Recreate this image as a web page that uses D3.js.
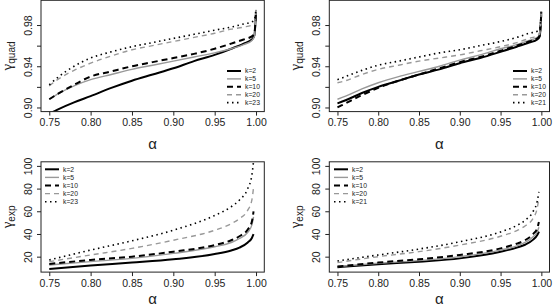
<!DOCTYPE html>
<html>
<head>
<meta charset="utf-8">
<script src="https://cdn.jsdelivr.net/npm/d3@7"></script>
<style>
  body { margin: 0; background: #fff; }
  text { font-family: "Liberation Sans", Arial, sans-serif; fill: #222; }
</style>
</head>
<body>
<script>
// ---- data ----
var kLabelsLeft = ["k=2", "k=5", "k=10", "k=20", "k=23"];
var kLabelsRight = ["k=2", "k=5", "k=10", "k=20", "k=21"];

var quadAlpha = [0.75, 0.76, 0.78, 0.80, 0.825, 0.85, 0.875, 0.90, 0.925, 0.95, 0.97, 0.985, 0.995, 0.998, 1.0];
var quadL_k2  = [0.894, 0.898, 0.905, 0.911, 0.919, 0.926, 0.932, 0.938, 0.945, 0.951, 0.957, 0.962, 0.966, 0.970, 0.993];
var quadL_k5  = [0.908, 0.913, 0.921, 0.927, 0.932, 0.937, 0.941, 0.945, 0.949, 0.953, 0.957, 0.961, 0.965, 0.969, 0.993];
var quadL_k10 = [0.908, 0.913, 0.922, 0.930, 0.935, 0.940, 0.944, 0.948, 0.952, 0.957, 0.962, 0.966, 0.969, 0.972, 0.994];
var quadL_k20 = [0.921, 0.927, 0.936, 0.943, 0.950, 0.956, 0.960, 0.964, 0.968, 0.972, 0.976, 0.978, 0.980, 0.982, 0.995];
var quadL_k23 = [0.922, 0.929, 0.940, 0.948, 0.954, 0.959, 0.963, 0.967, 0.971, 0.975, 0.978, 0.981, 0.983, 0.985, 0.996];

var quadR_k2  = [0.904, 0.907, 0.914, 0.920, 0.926, 0.932, 0.937, 0.943, 0.948, 0.954, 0.959, 0.963, 0.966, 0.969, 0.993];
var quadR_k5  = [0.908, 0.911, 0.918, 0.924, 0.930, 0.935, 0.940, 0.946, 0.951, 0.957, 0.961, 0.965, 0.968, 0.971, 0.993];
var quadR_k10 = [0.900, 0.904, 0.912, 0.919, 0.926, 0.932, 0.938, 0.944, 0.949, 0.955, 0.960, 0.964, 0.967, 0.970, 0.993];
var quadR_k20 = [0.924, 0.926, 0.932, 0.937, 0.941, 0.945, 0.948, 0.951, 0.955, 0.959, 0.963, 0.967, 0.970, 0.973, 0.994];
var quadR_k21 = [0.927, 0.930, 0.936, 0.941, 0.945, 0.949, 0.953, 0.956, 0.960, 0.964, 0.968, 0.972, 0.974, 0.976, 0.995];

var expAlpha = [0.75, 0.80, 0.85, 0.90, 0.95, 0.97, 0.98, 0.99, 0.995, 0.997];
var expL_k2  = [9.2, 12.2, 14.8, 17.7, 22.3, 25.5, 28.0, 32.5, 36.5, 39.8];
var expL_k5  = [12.7, 15.6, 18.5, 22.9, 28.7, 32.5, 36.0, 41.5, 48.0, 55.0];
var expL_k10 = [13.6, 17.1, 20.0, 24.4, 30.2, 34.5, 38.0, 44.0, 51.0, 60.0];
var expL_k20 = [15.6, 21.5, 27.3, 34.5, 43.3, 49.0, 53.5, 61.0, 70.0, 81.0];
var expL_k23 = [17.1, 25.8, 34.0, 43.3, 56.3, 64.0, 70.0, 80.0, 92.0, 104.0];

var expR_k2  = [10.7, 13.3, 15.6, 18.5, 24.4, 28.0, 30.5, 35.0, 39.0, 42.0];
var expR_k5  = [11.3, 14.2, 16.5, 20.0, 25.8, 29.5, 32.5, 37.5, 42.0, 46.0];
var expR_k10 = [11.3, 14.8, 17.7, 21.5, 27.3, 31.5, 34.5, 40.0, 45.0, 50.5];
var expR_k20 = [14.8, 20.0, 24.4, 30.2, 38.0, 43.0, 47.0, 54.0, 63.0, 72.0];
var expR_k21 = [16.2, 21.5, 26.7, 33.1, 41.8, 47.5, 52.0, 60.0, 69.0, 77.0];

var xTicks = [0.75, 0.80, 0.85, 0.90, 0.95, 1.00];
var quadTicks = [0.90, 0.92, 0.94, 0.96, 0.98];
var quadTickLabels = [0.90, 0.94, 0.98];
var expTicks = [20, 40, 60, 80, 100];

// ---- styling ----
var styles = [
    { color: "#000", w: 2.0, dash: null },
    { color: "#999", w: 1.4, dash: null },
    { color: "#000", w: 2.0, dash: "6,4" },
    { color: "#999", w: 1.4, dash: "5,4" },
    { color: "#000", w: 1.6, dash: "1.5,3.5" }
];

const w = 553,
    h = 307;
const svg = d3.select("body")
    .append("svg")
    .attr("width", w)
    .attr("height", h);

var panelId = 0;

var drawPanel = function (p) {
    panelId++;
    var xScale = d3.scaleLinear().domain([0.74, 1.01]).range([p.left, p.right]);
    var yScale = d3.scaleLinear().domain(p.yDomain).range([p.bottom, p.top]);

    var clipId = "clip" + panelId;
    svg.append("clipPath").attr("id", clipId)
        .append("rect")
        .attr("x", p.left).attr("y", p.top)
        .attr("width", p.right - p.left).attr("height", p.bottom - p.top);

    // curves
    var line = d3.line()
        .x((d) => xScale(d[0]))
        .y((d) => yScale(d[1]))
        .curve(d3.curveMonotoneX);
    var g = svg.append("g").attr("clip-path", "url(#" + clipId + ")");
    p.series.forEach(function (vals, i) {
        var pts = p.alpha.map((a, j) => [a, vals[j]]);
        g.append("path")
            .attr("d", line(pts))
            .attr("fill", "none")
            .attr("stroke", styles[i].color)
            .attr("stroke-width", styles[i].w)
            .attr("stroke-dasharray", styles[i].dash);
    });

    // box
    svg.append("rect")
        .attr("x", p.left).attr("y", p.top)
        .attr("width", p.right - p.left).attr("height", p.bottom - p.top)
        .attr("fill", "none").attr("stroke", "#222").attr("stroke-width", 1);

    // x axis
    var xAxis = d3.axisBottom(xScale)
        .tickValues(xTicks)
        .tickFormat(d3.format(".2f"))
        .tickSize(4)
        .tickPadding(3);
    var gx = svg.append("g")
        .attr("transform", "translate(0," + p.bottom + ")")
        .call(xAxis);
    gx.select(".domain").remove();
    gx.selectAll("line").attr("stroke", "#222");
    gx.selectAll("text").attr("font-size", 10.5).attr("fill", "#222")
        .attr("font-family", "'Liberation Sans', Arial, sans-serif");

    // y axis
    var yAxis = d3.axisLeft(yScale)
        .tickValues(p.yTicks)
        .tickFormat((d) => p.yLabels.some((v) => Math.abs(v - d) < 1e-9) ? p.yFormat(d) : "")
        .tickSize(4);
    var gy = svg.append("g")
        .attr("transform", "translate(" + p.left + ",0)")
        .call(yAxis);
    gy.select(".domain").remove();
    gy.selectAll("line").attr("stroke", "#222");
    gy.selectAll("text")
        .attr("font-size", 10.5).attr("fill", "#222")
        .attr("font-family", "'Liberation Sans', Arial, sans-serif")
        .attr("x", 0).attr("dy", "0.36em")
        .attr("text-anchor", "middle")
        .attr("transform", "translate(-12.7,0) rotate(-90)");

    // axis titles
    svg.append("text")
        .attr("x", (p.left + p.right) / 2)
        .attr("y", p.alphaY)
        .attr("text-anchor", "middle")
        .attr("font-family", "'Liberation Serif', serif")
        .attr("font-size", 15)
        .text("\u03b1");

    var yl = svg.append("text")
        .attr("transform", "translate(" + (p.left - 29) + "," + ((p.top + p.bottom) / 2) + ") rotate(-90)")
        .attr("text-anchor", "middle");
    yl.append("tspan")
        .attr("font-family", "'Liberation Serif', serif")
        .attr("font-size", 15)
        .text("\u03b3");
    yl.append("tspan")
        .attr("font-size", 10)
        .attr("dy", 3)
        .text(p.sub);

    // legend
    p.labels.forEach(function (lab, i) {
        var yy = p.legY + i * p.legStep;
        svg.append("line")
            .attr("x1", p.legX).attr("x2", p.legX + 14)
            .attr("y1", yy).attr("y2", yy)
            .attr("stroke", styles[i].color)
            .attr("stroke-width", styles[i].w)
            .attr("stroke-dasharray", styles[i].dash);
        svg.append("text")
            .attr("x", p.legX + 18).attr("y", yy)
            .attr("dy", "0.35em")
            .attr("font-size", 6.8)
            .text(lab);
    });
};

drawPanel({
    left: 41, right: 264.3, top: 0.3, bottom: 111.6, alphaY: 149,
    yDomain: [0.896, 1.004], yTicks: quadTicks, yLabels: quadTickLabels, yFormat: d3.format(".2f"),
    alpha: quadAlpha, series: [quadL_k2, quadL_k5, quadL_k10, quadL_k20, quadL_k23],
    labels: kLabelsLeft, sub: "quad", legX: 227, legY: 71, legStep: 7.9
});
drawPanel({
    left: 329.3, right: 549.5, top: 0.3, bottom: 111.6, alphaY: 149,
    yDomain: [0.896, 1.004], yTicks: quadTicks, yLabels: quadTickLabels, yFormat: d3.format(".2f"),
    alpha: quadAlpha, series: [quadR_k2, quadR_k5, quadR_k10, quadR_k20, quadR_k21],
    labels: kLabelsRight, sub: "quad", legX: 513, legY: 71, legStep: 7.9
});
drawPanel({
    left: 41, right: 264.3, top: 161.8, bottom: 272.1, alphaY: 304,
    yDomain: [6.4, 103.6], yTicks: expTicks, yLabels: expTicks, yFormat: d3.format("d"),
    alpha: expAlpha, series: [expL_k2, expL_k5, expL_k10, expL_k20, expL_k23],
    labels: kLabelsLeft, sub: "exp", legX: 45, legY: 169.3, legStep: 8.1
});
drawPanel({
    left: 329.3, right: 549.5, top: 161.8, bottom: 272.1, alphaY: 304,
    yDomain: [6.4, 103.6], yTicks: expTicks, yLabels: expTicks, yFormat: d3.format("d"),
    alpha: expAlpha, series: [expR_k2, expR_k5, expR_k10, expR_k20, expR_k21],
    labels: kLabelsRight, sub: "exp", legX: 334, legY: 169.3, legStep: 8.1
});
</script>
</body>
</html>
